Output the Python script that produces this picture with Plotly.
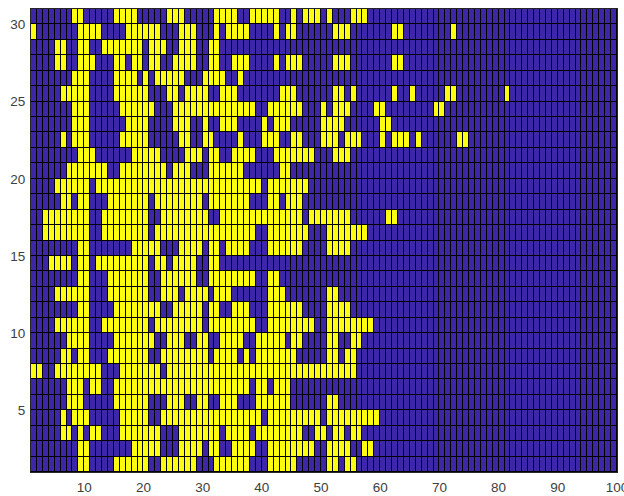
import plotly.graph_objects as go

# yellow runs (first column, last column) for each row of cells
row_30 = [(8,9),(15,18),(24,26),(32,35),(38,42),(45,45),(47,49),(51,51),(55,57)]
row_29 = [(1,1),(9,12),(17,22),(26,28),(32,32),(34,37),(42,42),(44,45),(52,54),(62,63),(72,72)]
row_28 = [(5,6),(9,10),(13,19),(21,23),(26,28),(31,32)]
row_27 = [(5,6),(9,11),(15,16),(18,19),(21,22),(25,28),(31,32),(35,37),(42,42),(44,46),(52,54),(62,63)]
row_26 = [(8,10),(15,18),(20,20),(22,26),(30,33),(36,36)]
row_25 = [(6,10),(15,20),(24,25),(27,30),(33,35),(43,45),(52,53),(55,55),(62,62),(65,65),(71,72),(81,81)]
row_24 = [(8,10),(16,21),(25,38),(41,46),(50,50),(52,54),(59,60),(69,70)]
row_23 = [(8,10),(17,20),(25,27),(30,30),(33,35),(40,40),(42,44),(50,53),(60,61)]
row_22 = [(6,6),(8,10),(16,20),(26,27),(30,31),(36,36),(40,42),(45,46),(50,52),(54,56),(60,60),(62,64),(66,66),(73,74)]
row_21 = [(9,11),(18,22),(27,29),(31,32),(35,38),(42,48),(52,54)]
row_20 = [(7,13),(16,23),(25,27),(31,36),(43,44)]
row_19 = [(5,10),(12,39),(41,47)]
row_18 = [(6,7),(9,10),(14,20),(22,29),(31,37),(41,42),(44,46)]
row_17 = [(3,10),(13,20),(23,30),(33,46),(48,54),(61,62)]
row_16 = [(3,10),(13,20),(22,38),(41,47),(51,57)]
row_15 = [(9,10),(18,22),(26,29),(31,32),(34,37),(41,46),(51,54)]
row_14 = [(4,7),(9,10),(12,20),(22,23),(25,28),(31,32)]
row_13 = [(9,10),(14,20),(23,28),(31,38),(41,42)]
row_12 = [(5,10),(14,20),(23,25),(27,30),(32,34),(41,43),(51,52)]
row_11 = [(9,10),(15,22),(25,29),(31,32),(35,37),(41,46),(51,54)]
row_10 = [(5,10),(13,20),(22,29),(31,38),(41,48),(51,58)]
row_09 = [(7,10),(15,21),(24,26),(29,30),(33,36),(39,43),(45,46),(51,52),(55,56)]
row_08 = [(6,7),(9,10),(14,20),(23,30),(32,35),(37,37),(39,45),(51,52),(54,55)]
row_07 = [(1,2),(5,12),(16,22),(24,55)]
row_06 = [(7,9),(11,12),(15,37),(39,40),(42,44)]
row_05 = [(7,9),(15,20),(24,26),(29,30),(33,35),(39,44),(51,52)]
row_04 = [(6,6),(8,10),(16,20),(23,39),(41,49),(51,59)]
row_03 = [(6,7),(9,9),(11,12),(16,22),(26,32),(34,37),(39,46),(49,50),(52,53),(55,56)]
row_02 = [(9,10),(18,22),(26,29),(31,32),(35,38),(41,48),(51,54),(57,58)]
row_01 = [(9,10),(15,20),(23,28),(32,37),(41,45),(51,52),(54,55)]

rows_bottom_up = [row_01,row_02,row_03,row_04,row_05,row_06,row_07,row_08,row_09,row_10,
                  row_11,row_12,row_13,row_14,row_15,row_16,row_17,row_18,row_19,row_20,
                  row_21,row_22,row_23,row_24,row_25,row_26,row_27,row_28,row_29,row_30]

x_edges = list(range(1, 101))
y_edges = list(range(1, 32))
x_ticks = [10, 20, 30, 40, 50, 60, 70, 80, 90, 100]
y_ticks = [5, 10, 15, 20, 25, 30]

z = []
for runs in rows_bottom_up:
    r = [0] * 99
    for a, b in runs:
        for c in range(a, b + 1):
            r[c - 1] = 1
    z.append(r)

fig = go.Figure(go.Heatmap(
    x=x_edges, y=y_edges, z=z, zmin=0, zmax=1, showscale=False, hoverinfo="skip",
    xgap=1, ygap=1,
    colorscale=[[0, "#3E26A8"], [1, "#FDFD12"]],
))
axis_font = dict(family="Liberation Sans, Arial, sans-serif", size=13.5, color="#404040")
fig.update_layout(
    width=624, height=496,
    margin=dict(l=31, r=7, t=9, b=24, pad=0, autoexpand=False),
    paper_bgcolor="white", plot_bgcolor="#000000",
    xaxis=dict(range=[1, 100], tickvals=x_ticks, ticks="", tickfont=axis_font,
               ticklabeloverflow="allow", ticklabelstandoff=3, automargin=False,
               showgrid=False, zeroline=False, showline=True, linecolor="#262626",
               linewidth=1, mirror=True),
    yaxis=dict(range=[1, 31], tickvals=y_ticks, ticks="", tickfont=axis_font,
               ticklabelstandoff=2, automargin=False,
               showgrid=False, zeroline=False, showline=True, linecolor="#262626",
               linewidth=1, mirror=True),
)
fig.write_html("out.html", config={"displayModeBar": False},
               post_script="document.body.style.margin='0';document.body.style.overflow='hidden';")
